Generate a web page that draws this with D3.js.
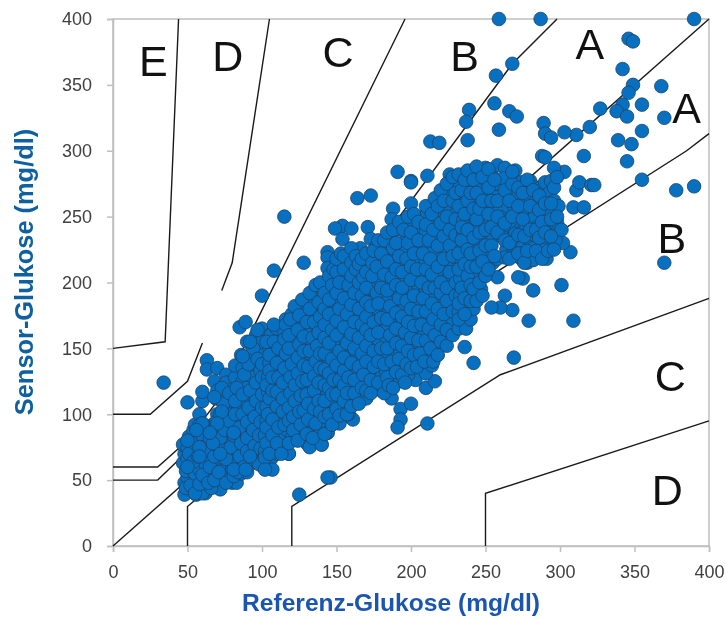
<!DOCTYPE html>
<html>
<head>
<meta charset="utf-8">
<script src="https://cdn.jsdelivr.net/npm/d3@7"></script>
<style>
  html, body { margin: 0; background: #fff; }
  svg { display: block; }
</style>
</head>
<body>
<div id="chart"></div>
<script>
// Werte: [Referenz, Sensor]
const lowCluster = [
  [47,63],[48,70],[47,77],[49,57],[50,66],[50,74],[51,83],[49,44],[52,60],[53,71],[53,79],[54,88],[52,46],
  [55,40],[55,55],[56,64],[56,73],[57,82],[55,92],[58,100],[58,58],[58,47],[59,69],[59,76],[59,88],[60,93],[60,110],[60,117],
  [62,52],[62,62],[63,71],[63,80],[64,87],[66,44],[66,57],[66,66],[67,76],[67,92],[68,83],[69,112],[70,100],[70,118],[70,62],[70,51],[70,71],[71,88],
  [73,58],[73,67],[74,78],[74,95],[75,105],[75,113],[77,53],[77,62],[77,72],[78,85],[79,100],[79,110],[80,119],[80,58],[80,68],[80,78],[80,92],
  [82,128],[82,137],[83,63],[84,72],[84,83],[85,95],[85,105],[85,115],[86,55],[86,145],[87,125],[87,135],[88,65],[88,77],[89,88],[89,100],[89,110],[90,120],[90,155],[90,143],[90,56],
  [92,62],[92,72],[92,83],[93,94],[93,105],[94,115],[94,128],[95,138],[95,150],[96,160],[97,68],[97,78],[97,89],[98,100],[98,110],[99,122],[99,133],[100,145],[100,155],[100,61],[100,165]
]

const midCluster = [
  [102,72],[102,84],[103,95],[103,106],[104,117],[104,128],[105,139],[105,150],[106,160],[106,66],[107,78],[107,90],[108,101],[108,112],[109,123],[109,134],[110,145],[110,155],[110,165],[110,70],[102,67],[107,58],[102,58],
  [113,76],[112,84],[112,96],[113,107],[113,118],[114,129],[114,140],[115,151],[115,162],[116,172],[117,88],[117,100],[118,70],[118,111],[118,122],[119,133],[119,144],[120,155],[120,165],[120,176],[120,82],
  [122,92],[122,104],[123,115],[123,126],[124,137],[124,148],[125,159],[125,170],[126,180],[127,85],[127,97],[128,109],[128,120],[129,131],[129,142],[130,153],[130,164],[130,175],[130,187],[130,78],
  [132,75],[133,90],[133,102],[134,113],[134,124],[135,135],[135,146],[136,157],[136,168],[137,179],[137,190],[138,84],[138,96],[139,107],[139,118],[140,129],[140,140],[140,151],[140,162],[140,173],[140,184],[140,77],[141,196],
  [143,92],[143,104],[144,86],[144,115],[144,126],[145,137],[145,148],[146,159],[146,170],[147,181],[147,192],[148,203],[148,98],[149,110],[149,121],[150,132],[150,143],[150,154],[150,165],[150,176],[150,187],[150,198],
  [152,93],[153,105],[153,116],[154,127],[154,138],[155,149],[155,160],[156,171],[156,182],[157,193],[157,204],[158,215],[158,100],[159,111],[159,122],[160,133],[160,144],[160,155],[160,166],[160,177],[160,188],[160,199],
  [162,110],[162,120],[163,131],[163,142],[164,153],[164,164],[165,114],[165,175],[165,186],[166,197],[166,208],[167,125],[167,136],[168,147],[168,158],[169,169],[169,180],[170,191],[170,202],[170,213],[170,112],
  [172,120],[172,131],[173,142],[173,153],[174,164],[174,175],[175,186],[175,197],[176,208],[176,219],[176,121],[177,228],[177,135],[178,146],[178,157],[179,168],[179,179],[180,190],[180,201],[180,212],[180,118],[180,128]
]

const upperCluster = [
  [182,223],[182,122],[183,133],[183,144],[184,155],[184,166],[185,177],[185,188],[186,199],[186,210],[187,221],[187,232],[188,127],[188,138],[189,149],[189,160],[190,171],[190,182],[190,193],[190,204],[190,215],[190,240],
  [192,226],[192,125],[193,136],[193,147],[194,158],[194,169],[195,180],[195,191],[196,202],[196,213],[197,224],[197,235],[198,130],[198,141],[199,152],[199,163],[200,174],[200,185],[200,196],[200,207],[200,218],[200,229],[200,245],
  [202,238],[203,140],[203,151],[204,162],[204,173],[205,184],[205,195],[206,206],[206,217],[207,228],[207,239],[208,150],[208,250],[209,161],[209,172],[210,183],[210,194],[210,205],[210,216],[210,227],[210,238],
  [212,145],[212,157],[213,168],[213,179],[214,190],[214,201],[215,212],[215,223],[216,234],[216,245],[217,256],[218,150],[218,163],[218,174],[219,185],[219,196],[220,207],[220,218],[220,229],[220,240],[220,251],[220,262],
  [222,156],[222,168],[223,180],[223,191],[224,202],[224,213],[225,224],[225,235],[226,246],[226,257],[227,268],[228,172],[228,185],[229,197],[229,208],[230,219],[230,230],[230,241],[230,252],[230,263],[230,274]
]

const highCluster = [
  [232,165],[232,178],[233,190],[233,203],[234,214],[234,225],[235,236],[235,247],[236,258],[236,269],[237,165],[237,280],[238,180],[238,195],[239,208],[239,219],[240,230],[240,241],[240,252],[240,263],[240,274],[240,172],
  [242,180],[243,205],[243,218],[244,229],[244,240],[245,251],[245,262],[246,273],[246,283],[247,195],[248,210],[248,223],[249,234],[249,245],[250,256],[250,267],[250,278],[250,287],[250,215],
  [252,225],[252,238],[253,249],[253,260],[254,271],[254,282],[255,215],[255,235],[256,245],[256,255],[257,265],[257,275],[258,289],[258,218],
  [263,287],[270,285],[262,279],[262,262],[262,250],[264,238],[264,225],[265,258],[266,270],[266,248],[268,221],[268,235],[269,258],[270,245],[270,228],[270,268],[270,276],
  [272,265],[273,240],[273,252],[274,276],[274,218],[275,227],[276,262],[277,243],[277,271],[278,215],[278,254],[279,233],[280,277],[280,265],[280,247],
  [282,217],[282,226],[283,236],[283,250],[284,262],[284,272],[286,243],[287,258],[287,272],[288,230],[289,265],[290,276],[291,218],[291,228],[292,240],[292,254],[293,268],[294,277],[296,287],[296,262],[297,232],[297,245],[299,258],
  [298,246],[301,240],[291,232],[290,225],[270,237],[262,234],[263,219],[269,220],[274,222]
]

const lowFill = [
  [51,70],[54,64],[55,78],[57,68],[58,92],[60,54],[60,84],[61,75],[64,48],[65,60],[65,72],[65,82],[68,50],[68,68],[69,77],[69,94],[71,56],[72,74],[72,82],[72,100],[73,120],[74,108],[75,88],[76,48],[76,66],[78,95],[78,116],[79,75],[81,53],[81,84],[82,100],[82,110],[83,120],[84,56],[85,68],[85,90],[86,78],[87,100],[87,115],[88,60],[88,130],[90,72],[90,82],[90,94],[91,105],[91,138],[92,118],[93,66],[94,88],[94,150],[95,76],[95,98],[96,110],[96,124],[97,142],[98,62],[98,84],[99,74],[99,94],[100,105],[100,115],[100,128],[100,138],
  [97,164],[107,162],[92,155],[87,144],[68,113],[73,102],[60,93],[56,88],[67,78],[50,80],[58,75],[50,60],[58,68],[70,93],[65,86],[81,86],[72,70],[81,58],[89,58],[92,68]
]

const midFill = [
  [103,78],[103,90],[103,122],[103,155],[104,100],[105,70],[105,112],[105,133],[105,145],[107,84],[107,96],[107,118],[107,128],[108,155],[108,168],[110,78],[110,106],[110,117],[110,139],[111,90],[111,128],[111,150],[113,70],[114,102],[114,112],[114,124],[115,135],[115,157],[115,92],[116,146],[116,168],[118,78],[118,95],[118,105],[118,150],[118,160],[119,116],[119,128],[119,172],[120,138],[121,88],[121,98],[122,110],[122,122],[122,182],[124,131],[124,143],[124,164],[124,80],[125,102],[125,153],[125,175],[126,92],[126,114],[127,125],[127,187],[128,103],[128,137],[128,148],[128,159],[130,85],[130,115],[130,126],[130,170],[131,96],[131,108],[131,136],[132,148],[132,180],[132,192],[134,82],[134,158],[135,104],[135,118],[135,129],[135,170],[136,93],[136,140],[136,198],[137,152],[138,110],[138,124],[138,162],[138,185],
  [139,102],[139,135],[139,146],[139,174],[139,200],[142,85],[142,98],[142,110],[142,122],[142,134],[142,146],[142,158],[142,168],[142,180],[142,192],[145,100],[145,120],[145,131],[145,154],[145,176],[145,187],[145,205],[147,92],[147,115],[147,142],[147,164],[147,198],[148,126],[148,210],[150,104],[150,115],[150,137],[150,160],[150,171],[150,192],[150,208],[150,218],[152,99],[152,126],[152,148],[152,180],[152,200],[153,222],[155,110],[155,122],[155,133],[155,143],[155,166],[155,188],[155,210],[155,220],[157,100],[157,116],[157,154],[157,176],[158,128],[158,198],[160,106],[160,139],[160,161],[160,183],[160,205],[160,215],[160,226],[162,116],[162,126],[162,150],[162,170],[162,192],[163,210],[163,220],[165,108],[165,136],[165,158],[165,180],[165,200],[165,214],[167,120],[167,146],[167,168],[167,190],[167,218],[168,130],[168,204],[170,118],[170,140],[170,152],[170,164],[170,174],[170,185],[170,196],[170,208],[170,222]
]

const upperFill = [
  [173,116],[173,126],[173,160],[173,182],[174,205],[174,215],[175,136],[175,148],[175,170],[175,224],[177,192],[177,212],[178,124],[178,140],[178,162],[178,184],[178,232],[180,150],[180,173],[180,196],[180,222],[182,116],[182,138],[182,206],[182,232],[184,128],[184,150],[184,172],[184,194],[184,216],[184,238],[185,122],[186,160],[186,182],[187,140],[187,204],[188,120],[188,226],[188,240],[190,132],[190,154],[190,165],[190,177],[190,198],[190,210],[190,230],[192,142],[192,188],[192,220],[192,246],[194,130],[194,152],[194,174],[194,196],[194,208],[195,240],[196,162],[196,124],[197,138],[197,186],[197,218],[198,148],[198,170],[198,230],[198,250],[200,158],[200,135],[200,180],[200,202],[200,212],[200,238],[202,145],[202,167],[202,190],[202,222],[202,252],[204,136],[204,210],[205,156],[205,178],[205,232],[205,246],[206,146],[207,168],[207,200],[208,188],[208,222],[209,140],[210,156],[210,178],[210,210],[210,244],[210,258],[212,165],[212,196],[212,232],[213,150],[213,218],[214,184],[214,206],[214,252],[215,140],[215,172],[215,240],[216,160],[216,196],[216,264],[218,145],[218,180],[218,212],[218,228],[218,258],[220,168],[220,155],[220,192],[220,200],[220,245],[220,270],[222,176],[222,218],[222,235],[222,262],[224,152],[224,164],[224,186],[224,196],[224,250],[224,275],[226,208],[226,228],[226,240],[228,160],[228,178],[228,220],[228,262],[228,280],[230,190],[230,200],[230,236],[230,248],[230,268]
]

const highFill = [
  [232,172],[232,184],[232,210],[232,222],[232,258],[232,282],[234,196],[234,232],[234,242],[234,270],[236,176],[236,188],[236,214],[236,252],[236,278],[238,205],[238,225],[238,240],[238,262],[238,285],[240,186],[240,198],[240,212],[240,222],[240,268],[242,195],[242,234],[242,256],[242,278],[244,186],[244,212],[244,248],[244,268],[244,288],[246,200],[246,224],[246,238],[246,256],[248,190],[248,216],[248,262],[248,280],[250,205],[250,228],[250,240],[252,210],[252,252],[252,272],[252,286],[254,228],[254,242],[254,262],[256,220],[256,278],[258,238],[258,250],[258,262],[263,270],[263,245],[263,232],[266,218],[266,230],[266,262],[268,250],[268,275],[268,284],[272,222],[272,236],[272,258],[272,272],[275,248],[275,268],[276,235],[276,215],[278,278],[278,224],[280,240],[280,258],[282,270],[284,240],[284,224],[286,266],[286,255],[286,234],[288,246],[288,218],[290,260],[290,238],[292,224],[294,248],[294,260],[294,235],[296,272],[296,225],[298,280],[298,250]
]

const outliers = [
  [259,400],[287,400],[390,400],[346,385],[349,383],[342,362],[349,350],[346,344],[368,349],[342,335],[338,330],[345,326],[355,335],[370,325],[327,332],[320,318],[311,312],[303,314],[289,321],[290,313],[294,310],[355,315],[339,308],[348,305],[316,296],[345,292],[288,296],[290,295],
  [259,316],[256,336],[266,330],[271,326],[239,331],[237,322],[238,308],[213,307],[219,306],[257,357],[268,366],[378,270],[390,273],[355,278],[370,215],[301,198],[282,194],[275,203],[272,204],[263,190],[258,204],[307,223],[302,230],[309,257],[316,257],[298,258],[311,270],[313,276],[321,274],[323,274],[303,284],[226,282],[211,281],[200,277],[200,260],
  [309,171],[269,143],[279,171],[268,179],[260,181],[254,181],[242,139],[236,151],[211,93],[125,39],[146,52],[144,52],[34,124],[50,109],[115,250],[128,215],[108,209],[100,190],[85,166],[89,170],[63,141],[63,134],[70,135],[76,130],[68,125],[76,124],
  [191,284],[200,276],[164,264],[173,266],[188,256],[187,248],[154,243],[149,241],[160,241],[154,233],[171,242],[173,233],[166,226],[172,220],[144,223],[144,219],[144,211],[153,210],[153,206],[187,112],[193,104],[200,108],[193,96],[191,90],[203,126],[210,120],[216,125],[210,131],[214,137],[165,114],[176,121],[159,98],[161,96],[144,86],[140,77],
  [48,39],[56,39],[62,40],[60,40],[72,43],[80,48],[83,48],[48,48],[50,52],[58,50],[66,49],[118,70],[113,76]
]

const axisTicks = [0, 50, 100, 150, 200, 250, 300, 350, 400]

// Parkes-Zonengrenzen
const zoneLines = [
  [[0,0],[400,400]],
  [[0,50],[30,50],[140,170],[268,366],[298,400]],
  [[0,60],[30,60],[50,80],[70,110],[196,400]],
  [[0,100],[25,100],[50,125],[60,154]],
  [[73,194],[80,215],[105,400]],
  [[0,150],[35,155],[44,400]],
  [[50,0],[50,30],[170,145],[385,300],[400,313]],
  [[120,0],[120,30],[260,130],[400,188]],
  [[250,0],[250,40],[400,95]]
]

const zoneLabels = ['E', 'D', 'C', 'B', 'A', 'A', 'B', 'C', 'D']
const zoneLabelX = [27, 77, 151, 236, 320, 385, 375, 374, 372]
const zoneLabelY = [365, 369, 372, 369, 378, 330, 231, 126, 40]

const width = 726
const height = 619
const plot = { left: 113, right: 709, top: 19, bottom: 546 }
const fontFamily = '"Liberation Sans", Arial, sans-serif'

const x = d3.scaleLinear().domain([0, 400]).range([plot.left, plot.right])
const y = d3.scaleLinear().domain([0, 400]).range([plot.bottom, plot.top])

const svg = d3.select('#chart')
  .append('svg')
  .attr('width', width)
  .attr('height', height)
  .style('filter', 'blur(0.4px)')
  .style('font-family', fontFamily)

// Rahmen
svg.append('rect')
  .attr('x', plot.left)
  .attr('y', plot.top)
  .attr('width', plot.right - plot.left)
  .attr('height', plot.bottom - plot.top)
  .attr('fill', 'none')
  .attr('stroke', '#bfbfbf')
  .attr('stroke-width', 1.5)

const xAxis = (g) => {
  g.attr('transform', `translate(0,${plot.bottom})`)
    .call(d3.axisBottom(x).tickValues(axisTicks).tickSize(6).tickPadding(13))
    .attr('font-size', 18)
    .attr('font-family', fontFamily)
    .attr('color', '#404040')
  g.selectAll('line, path').attr('stroke', '#bfbfbf').attr('stroke-width', 1.5)
}

const yAxis = (g) => {
  g.attr('transform', `translate(${plot.left},0)`)
    .call(d3.axisLeft(y).tickValues(axisTicks).tickSize(6).tickPadding(15))
    .attr('font-size', 18)
    .attr('font-family', fontFamily)
    .attr('color', '#404040')
  g.selectAll('line, path').attr('stroke', '#bfbfbf').attr('stroke-width', 1.5)
}

svg.append('g').call(xAxis)
svg.append('g').call(yAxis)

const line = d3.line().x(d => x(d[0])).y(d => y(d[1]))

svg.append('g')
  .selectAll('path')
  .data(zoneLines)
  .join('path')
  .attr('d', line)
  .attr('fill', 'none')
  .attr('stroke', '#1a1a1a')
  .attr('stroke-width', 1.4)

svg.append('g')
  .selectAll('text')
  .data(zoneLabels)
  .join('text')
  .attr('x', (d, i) => x(zoneLabelX[i]))
  .attr('y', (d, i) => y(zoneLabelY[i]))
  .attr('text-anchor', 'middle')
  .attr('dominant-baseline', 'middle')
  .attr('font-size', 43)
  .attr('fill', '#111')
  .text(d => d)

const points = [...outliers, ...lowCluster, ...lowFill, ...midCluster, ...midFill, ...upperCluster, ...upperFill, ...highCluster, ...highFill]

svg.append('g')
  .selectAll('circle')
  .data(points)
  .join('circle')
  .attr('cx', d => x(d[0]))
  .attr('cy', d => y(d[1]))
  .attr('r', 6.8)
  .attr('fill', '#0870c0')
  .attr('stroke', '#1d4468')
  .attr('stroke-width', 0.8)

// Achsentitel
svg.append('text')
  .attr('x', 391)
  .attr('y', 611)
  .attr('text-anchor', 'middle')
  .attr('font-size', 24.6)
  .attr('font-weight', 'bold')
  .attr('fill', '#1a55b0')
  .text('Referenz-Glukose (mg/dl)')

svg.append('text')
  .attr('text-anchor', 'middle')
  .attr('transform', 'translate(33,272) rotate(-90)')
  .attr('font-size', 25.4)
  .attr('font-weight', 'bold')
  .attr('fill', '#0f60a0')
  .text('Sensor-Glukose (mg/dl)')
</script>
</body>
</html>
